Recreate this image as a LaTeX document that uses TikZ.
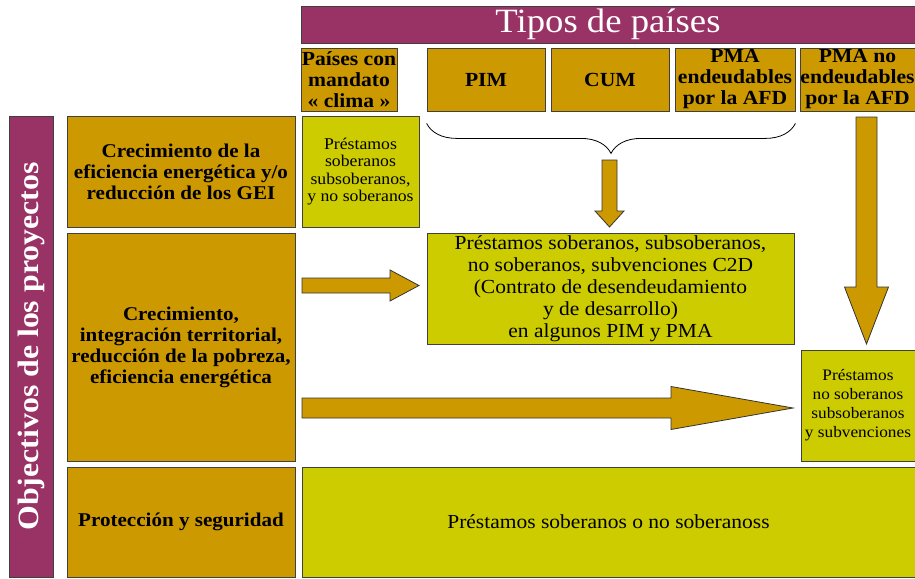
\documentclass[tikz,border=0pt]{standalone}
\usepackage{fontspec}
\setmainfont{Liberation Serif}[FakeStretch=1.08]
\usetikzlibrary{calc, decorations.pathreplacing}

\definecolor{plum}{HTML}{993366}
\definecolor{mustard}{HTML}{CC9900}
\definecolor{citron}{HTML}{CCCC00}

\tikzset{
  cell/.style={draw=black!75, line width=0.8pt, inner sep=0pt, align=center, text=black},
  headbox/.style={cell, fill=mustard, minimum height=63pt, font=\fontsize{20}{21}\selectfont\bfseries},
  goalbox/.style={cell, fill=mustard, minimum width=228pt, font=\fontsize{19.5}{21}\selectfont\bfseries},
  loanbox/.style={cell, fill=citron},
  blockarrow/.style={draw=black!80, line width=0.8pt, fill=mustard}
}

% block arrows: start, tip, shaft half width, head half width, head length
\newcommand{\rightblock}[5]{%
  \draw[blockarrow] let \p1=(#1), \p2=(#2) in
    (\x1,\y1+#3) -- (\x2-#5,\y1+#3) -- (\x2-#5,\y1+#4) -- (\x2,\y1)
    -- (\x2-#5,\y1-#4) -- (\x2-#5,\y1-#3) -- (\x1,\y1-#3) -- cycle;}
\newcommand{\downblock}[5]{%
  \draw[blockarrow] let \p1=(#1), \p2=(#2) in
    (\x1-#3,\y1) -- (\x1-#3,\y2+#5) -- (\x1-#4,\y2+#5) -- (\x1,\y2)
    -- (\x1+#4,\y2+#5) -- (\x1+#3,\y2+#5) -- (\x1+#3,\y1) -- cycle;}

\begin{document}
\begin{tikzpicture}[x=1pt, y=-1pt]
  \useasboundingbox (0,0) rectangle (915,578);

  % column headers
  \node[cell, fill=plum, text=white, minimum width=614pt, minimum height=37pt,
        font=\fontsize{34}{36}\selectfont] (tipos) at (608,24.5) {Tipos de países};
  \node[headbox, minimum width=96pt] (h1) at (349,79.5) {Países con\\mandato\\« clima »};
  \node[headbox, minimum width=118pt] (h2) at (486,79.5) {PIM};
  \node[headbox, minimum width=118pt] (h3) at (610,79.5) {CUM};
  \node[headbox, minimum width=120pt] (h4) at (735,79.5) {PMA\\endeudables\\por la AFD};
  \node[headbox, minimum width=115pt] (h5) at (857.5,79.5) {PMA no\\endeudables\\por la AFD};

  % row headers
  \node[cell, fill=plum, text=white, rotate=90, minimum width=461pt, minimum height=44pt,
        font=\fontsize{29.5}{31}\selectfont\bfseries] (objet) at (31,346.5) {Objectivos de los proyectos};
  \node[goalbox, minimum height=111pt] (o1) at (181,171.5) {Crecimiento de la\\eficiencia energética y/o\\reducción de los GEI};
  \node[goalbox, minimum height=228pt] (o2) at (181,347) {Crecimiento,\\integración territorial,\\reducción de la pobreza,\\eficiencia energética};
  \node[goalbox, minimum height=110pt] (o3) at (181,522) {Protección y seguridad};

  % financing
  \node[loanbox, minimum width=117pt, minimum height=111pt, font=\fontsize{16.4}{17.5}\selectfont]
    (p1) at (360.5,171.5) {Préstamos\\soberanos\\subsoberanos,\\y no soberanos};
  \node[loanbox, minimum width=367pt, minimum height=111pt, font=\fontsize{19.9}{22}\selectfont]
    (c2d) at (610.5,288.5) {Préstamos soberanos, subsoberanos,\\no soberanos, subvenciones C2D\\(Contrato de desendeudamiento\\y de desarrollo)\\en algunos PIM y PMA};
  \node[loanbox, minimum width=114pt, minimum height=111pt, font=\fontsize{16}{19}\selectfont]
    (p3) at (858,405.5) {Préstamos\\no soberanos\\subsoberanos\\y subvenciones};
  \node[loanbox, minimum width=613pt, minimum height=110pt, font=\fontsize{19.9}{22}\selectfont]
    (p4) at (608.5,522) {Préstamos soberanos o no soberanoss};

  % brace over PIM, CUM, PMA
  \draw[decorate, decoration={brace, amplitude=30pt, mirror}, line width=0.8pt]
    ([yshift=-12pt]h2.south west) -- ([yshift=-12pt]h4.south east);

  % arrows
  \coordinate (a1s) at (302,285.5);
  \coordinate (a1e) at (419,285.5);
  \coordinate (a2s) at (302,408);
  \coordinate (a2e) at (793,408);
  \coordinate (a3s) at (609.5,160);
  \coordinate (a3e) at (609.5,227);
  \coordinate (a4s) at (866.5,117);
  \coordinate (a4e) at (866.5,344);
  \rightblock{a1s}{a1e}{7.5pt}{15.5pt}{29pt}
  \rightblock{a2s}{a2e}{10pt}{21.5pt}{122pt}
  \downblock{a3s}{a3e}{7.5pt}{14.5pt}{16pt}
  \downblock{a4s}{a4e}{10.5pt}{22pt}{57pt}
\end{tikzpicture}
\end{document}
